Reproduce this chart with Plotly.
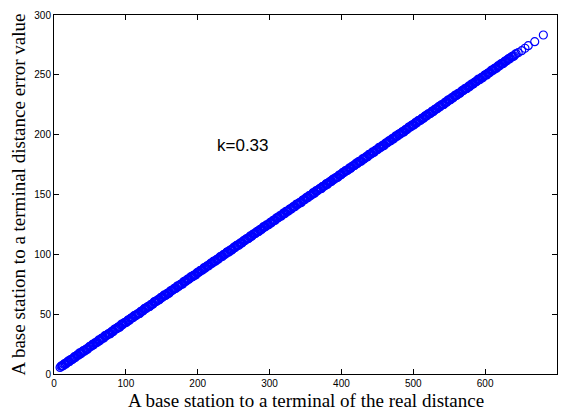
import plotly.graph_objects as go

real_distance = [
    8.4, 10.9, 12.6, 14.8, 17.3, 19.5, 21.2, 23.9, 26.1, 28.4,
    30.2, 32.8, 35.1, 37.4, 39.6, 41.7, 44.3, 46.2, 48.8, 51.0,
    53.4, 55.2, 57.9, 60.3, 62.4, 64.7, 66.8, 69.4, 71.5, 73.6,
    76.0, 78.3, 80.7, 82.5, 85.1, 87.4, 89.6, 91.9, 94.2, 96.3,
    98.8, 101.0, 103.4, 105.5, 107.9, 110.2, 112.6, 114.7, 117.1, 119.3,
    121.8, 124.0, 126.3, 128.5, 130.9, 133.2, 135.4, 137.8, 140.1, 142.3,
    144.7, 146.9, 149.2, 151.6, 153.8, 156.1, 158.4, 160.7, 163.0, 165.3,
    167.6, 169.9, 172.2, 174.5, 176.8, 179.1, 181.4, 183.7, 186.0, 188.3,
    190.6, 192.9, 195.2, 197.5, 199.8, 202.1, 204.4, 206.7, 209.0, 211.3,
    213.6, 215.9, 218.2, 220.5, 222.8, 225.1, 227.4, 229.7, 232.0, 234.3,
    236.6, 238.9, 241.2, 243.5, 245.8, 248.1, 250.4, 252.7, 255.0, 257.3,
    259.6, 261.9, 264.2, 266.5, 268.8, 271.1, 273.4, 275.7, 278.0, 280.3,
    282.6, 284.9, 287.2, 289.5, 291.8, 294.1, 296.4, 298.7, 301.0, 303.3,
    305.6, 307.9, 310.2, 312.5, 314.8, 317.1, 319.4, 321.7, 324.0, 326.3,
    328.6, 330.9, 333.2, 335.5, 337.8, 340.1, 342.4, 344.7, 347.0, 349.3,
    351.6, 353.9, 356.2, 358.5, 360.8, 363.1, 365.4, 367.7, 370.0, 372.3,
    374.6, 376.9, 379.2, 381.5, 383.8, 386.1, 388.4, 390.7, 393.0, 395.3,
    397.6, 399.9, 402.2, 404.5, 406.8, 409.1, 411.4, 413.7, 416.0, 418.3,
    420.6, 422.9, 425.2, 427.5, 429.8, 432.1, 434.4, 436.7, 439.0, 441.3,
    443.6, 445.9, 448.2, 450.5, 452.8, 455.1, 457.4, 459.7, 462.0, 464.3,
    466.6, 468.9, 471.2, 473.5, 475.8, 478.1, 480.4, 482.7, 485.0, 487.3,
    489.6, 491.9, 494.2, 496.5, 498.8, 501.1, 503.4, 505.7, 508.0, 510.3,
    512.6, 514.9, 517.2, 519.5, 521.8, 524.1, 526.4, 528.7, 531.0, 533.3,
    535.6, 537.9, 540.2, 542.5, 544.8, 547.1, 549.4, 551.7, 554.0, 556.3,
    558.6, 560.9, 563.2, 565.5, 567.8, 570.1, 572.4, 574.7, 577.0, 579.3,
    581.6, 583.9, 586.2, 588.5, 590.8, 593.1, 595.4, 597.7, 600.0, 602.3,
    604.6, 606.9, 609.2, 611.5, 613.8, 616.1, 618.4, 620.7, 623.0, 625.3,
    627.6, 630.0, 632.5, 634.9, 637.6, 640.2, 643.1, 646.0, 650.8, 655.4,
    660.0, 669.0, 681.0,
    9.7, 11.8, 13.7, 16.0, 18.4, 20.3, 22.5, 25.0, 27.2, 29.3,
    31.4, 34.0, 36.3, 38.6, 40.8, 42.9, 45.5, 47.4, 50.0, 52.2,
    54.5, 56.4, 59.1, 61.4, 63.6, 65.8, 68.0, 70.5, 72.6, 74.8,
    77.2, 79.5, 81.9, 83.7, 86.3, 88.5, 90.8, 93.1, 95.3, 97.5,
    99.9, 102.2, 104.5, 106.7, 109.1, 111.4, 113.7, 115.9, 118.2, 120.5,
    122.9, 125.2, 127.4, 129.7, 132.1, 134.3, 136.6, 139.0, 141.2, 143.5,
    145.8, 148.1, 150.4, 152.7, 155.0, 157.3, 159.6, 161.9, 164.2, 166.5,
    168.8, 171.1, 173.4, 175.7, 178.0, 180.3, 182.6, 184.9, 187.2, 189.5,
    191.8, 194.1, 196.4, 198.7, 201.0, 203.3, 205.6, 207.9, 210.2, 212.5,
    214.8, 217.1, 219.4, 221.7, 224.0, 226.3, 228.6, 230.9, 233.2, 235.5,
    237.8, 240.1, 242.4, 244.7, 247.0, 249.3, 251.6, 253.9, 256.2, 258.5,
    260.8, 263.1, 265.4, 267.7, 270.0, 272.3, 274.6, 276.9, 279.2, 281.5,
    283.8, 286.1, 288.4, 290.7, 293.0, 295.3, 297.6, 299.9, 302.2, 304.5,
    306.8, 309.1, 311.4, 313.7, 316.0, 318.3, 320.6, 322.9, 325.2, 327.5,
    329.8, 332.1, 334.4, 336.7, 339.0, 341.3, 343.6, 345.9, 348.2, 350.5,
    352.8, 355.1, 357.4, 359.7, 362.0, 364.3, 366.6, 368.9, 371.2, 373.5,
    375.8, 378.1, 380.4, 382.7, 385.0, 387.3, 389.6, 391.9, 394.2, 396.5,
    398.8, 401.1, 403.4, 405.7, 408.0, 410.3, 412.6, 414.9, 417.2, 419.5,
    421.8, 424.1, 426.4, 428.7, 431.0, 433.3, 435.6, 437.9, 440.2, 442.5,
    444.8, 447.1, 449.4, 451.7, 454.0, 456.3, 458.6, 460.9, 463.2, 465.5,
    467.8, 470.1, 472.4, 474.7, 477.0, 479.3, 481.6, 483.9, 486.2, 488.5,
    490.8, 493.1, 495.4, 497.7, 500.0, 502.3, 504.6, 506.9, 509.2, 511.5,
    513.8, 516.1, 518.4, 520.7, 523.0, 525.3, 527.6, 529.9, 532.2, 534.5,
    536.8, 539.1, 541.4, 543.7, 546.0, 548.3, 550.6, 552.9, 555.2, 557.5,
    559.8, 562.1, 564.4, 566.7, 569.0, 571.3, 573.6, 575.9, 578.2, 580.5,
    582.8, 585.1, 587.4, 589.7, 592.0, 594.3, 596.6, 598.9, 601.2, 603.5,
    605.8, 608.1, 610.4, 612.7, 615.0, 617.3, 619.6, 621.9, 624.2, 626.5,
    628.8, 631.2, 633.7, 636.2, 638.9, 641.6,
]

error_value = [
    5.5, 6.9, 6.9, 8.7, 9.0, 10.7, 10.3, 12.2, 12.6, 14.5,
    14.4, 16.0, 17.4, 16.9, 18.9, 19.0, 20.5, 20.5, 22.6, 23.0,
    24.7, 24.5, 26.2, 26.5, 28.5, 28.6, 30.0, 30.1, 32.1, 32.4,
    33.8, 33.7, 35.6, 35.8, 37.8, 37.9, 39.4, 39.5, 41.7, 41.7,
    43.1, 43.2, 45.3, 45.3, 47.0, 47.2, 49.1, 49.2, 50.5, 50.6,
    52.6, 52.9, 54.9, 55.0, 56.5, 56.4, 58.2, 58.6, 60.5, 60.6,
    62.1, 62.2, 64.1, 64.5, 66.2, 66.1, 67.6, 67.8, 69.7, 70.1,
    71.5, 71.7, 73.7, 74.0, 75.2, 75.3, 77.4, 77.6, 79.2, 79.6,
    81.3, 81.3, 82.7, 83.0, 85.0, 85.3, 86.7, 86.9, 89.0, 89.2,
    90.4, 90.8, 92.6, 92.8, 94.4, 94.4, 96.1, 96.7, 98.4, 98.2,
    100.0, 100.5, 102.1, 101.9, 103.7, 104.1, 106.0, 106.1, 107.7, 107.5,
    109.5, 109.7, 111.6, 111.9, 113.2, 113.4, 115.5, 115.5, 117.2, 117.5,
    119.2, 119.0, 120.8, 121.3, 123.2, 123.0, 124.7, 124.8, 126.7, 127.1,
    128.4, 128.5, 130.6, 130.7, 132.4, 132.7, 134.5, 134.3, 135.9, 136.3,
    138.1, 138.4, 139.8, 139.9, 142.0, 142.3, 143.5, 143.8, 145.6, 145.9,
    147.6, 147.7, 149.2, 149.8, 151.6, 151.4, 153.1, 153.7, 155.1, 155.1,
    156.8, 157.3, 159.1, 159.3, 160.7, 160.9, 162.8, 163.2, 164.4, 164.6,
    166.5, 166.8, 168.6, 168.8, 170.0, 170.4, 172.3, 172.5, 174.0, 174.3,
    176.2, 176.4, 177.7, 177.8, 179.9, 180.1, 181.6, 181.7, 183.6, 183.9,
    185.7, 185.6, 187.2, 187.6, 189.4, 189.7, 191.1, 191.1, 193.1, 193.4,
    195.1, 195.1, 196.7, 197.2, 199.1, 198.8, 200.6, 201.1, 202.6, 202.5,
    204.3, 204.7, 206.6, 206.7, 208.2, 208.3, 210.3, 210.6, 211.9, 212.0,
    213.9, 214.2, 216.0, 216.2, 217.4, 217.8, 219.7, 219.9, 221.4, 221.7,
    223.6, 223.9, 225.1, 225.3, 227.3, 227.6, 229.0, 229.2, 231.0, 231.4,
    233.1, 233.1, 234.6, 235.1, 236.8, 237.2, 238.5, 238.6, 240.5, 240.9,
    242.5, 242.6, 244.1, 244.7, 246.5, 246.3, 248.0, 248.6, 250.0, 249.9,
    251.7, 252.1, 254.0, 254.1, 255.6, 255.7, 257.7, 258.0, 259.3, 259.4,
    261.4, 261.7, 263.5, 263.8, 265.4, 265.8, 267.8, 268.5, 270.2, 272.2,
    274.4, 277.7, 283.3,
    6.5, 6.7, 8.0, 8.2, 10.0, 10.3, 11.9, 12.0, 13.4, 13.6,
    15.3, 15.7, 17.6, 17.8, 19.5, 19.3, 21.0, 21.3, 23.1, 23.5,
    24.3, 25.8, 26.3, 27.8, 27.7, 29.5, 29.8, 31.8, 31.9, 33.2,
    33.5, 35.2, 35.4, 37.2, 37.6, 38.8, 38.9, 40.9, 41.1, 42.8,
    43.1, 44.6, 44.7, 46.4, 47.0, 48.6, 48.6, 50.1, 50.3, 52.2,
    52.5, 54.2, 54.5, 56.0, 56.1, 57.7, 58.0, 60.0, 60.3, 61.6,
    61.8, 63.6, 63.9, 65.6, 65.7, 67.2, 67.3, 69.3, 69.7, 71.1,
    71.4, 73.2, 73.2, 74.8, 75.0, 77.1, 77.2, 78.7, 78.9, 80.7,
    81.0, 82.5, 82.5, 84.3, 84.9, 86.4, 86.6, 88.0, 88.3, 90.1,
    90.3, 91.9, 92.4, 94.1, 94.2, 95.6, 95.9, 97.7, 98.2, 99.5,
    99.9, 101.6, 101.9, 103.4, 103.5, 105.1, 105.5, 107.4, 107.7, 109.0,
    109.2, 110.9, 111.4, 113.0, 113.1, 114.6, 114.8, 116.7, 117.1, 118.5,
    118.9, 120.5, 120.5, 122.3, 122.8, 124.4, 124.5, 126.0, 126.1, 128.1,
    128.3, 130.1, 130.3, 131.9, 131.9, 133.6, 133.9, 135.9, 136.1, 137.5,
    137.7, 139.4, 139.8, 141.5, 141.6, 143.1, 143.2, 145.2, 145.6, 147.0,
    147.3, 149.1, 149.1, 150.7, 150.9, 153.0, 153.1, 154.6, 154.8, 156.6,
    156.9, 158.4, 158.4, 160.2, 160.8, 162.3, 162.5, 163.9, 164.2, 166.0,
    166.2, 167.8, 168.3, 170.0, 170.1, 171.5, 171.8, 173.6, 174.1, 175.4,
    175.8, 177.5, 177.8, 179.3, 179.4, 181.0, 181.4, 183.3, 183.6, 184.9,
    185.1, 186.8, 187.3, 188.9, 189.0, 190.5, 190.7, 192.6, 193.0, 194.4,
    194.8, 196.4, 196.4, 198.2, 198.7, 200.3, 200.4, 201.9, 202.0, 204.0,
    204.2, 206.0, 206.2, 207.8, 207.8, 209.5, 209.8, 211.8, 212.0, 213.4,
    213.6, 215.3, 215.7, 217.5, 217.5, 219.0, 219.2, 221.1, 221.5, 222.9,
    223.2, 225.0, 225.0, 226.6, 226.8, 228.9, 229.0, 230.5, 230.7, 232.5,
    232.8, 234.3, 234.3, 236.1, 236.7, 238.2, 238.4, 239.8, 240.1, 241.9,
    242.1, 243.7, 244.2, 245.8, 245.9, 247.4, 247.6, 249.5, 249.9, 251.3,
    251.7, 253.4, 253.7, 255.2, 255.3, 256.9, 257.3, 259.2, 259.5, 260.8,
    261.3, 262.8, 263.2, 264.9, 265.4, 267.0,
]

x_ticks = [0, 100, 200, 300, 400, 500, 600, 700]
y_ticks = [0, 50, 100, 150, 200, 250, 300]
note_text = "k=0.33"
x_title = "A base station to a terminal of the real distance"
y_title = "A base station to a terminal distance error value"

fig = go.Figure()
fig.add_trace(go.Scatter(
    x=real_distance, y=error_value, mode="markers",
    marker=dict(symbol="circle-open", size=8, color="#0000ff",
                line=dict(color="#0000ff", width=1.2)),
    showlegend=False, hoverinfo="skip",
))

axis_common = dict(
    showgrid=False, zeroline=False, showline=True, linecolor="black", linewidth=1,
    mirror="ticks", ticks="inside", ticklen=5, tickwidth=1, tickcolor="black",
    tickfont=dict(family="Liberation Sans, Arial, sans-serif", size=10, color="black"),
)

fig.update_xaxes(range=[0, 700], tickvals=x_ticks, ticktext=[str(v) for v in x_ticks], **axis_common)
fig.update_yaxes(range=[0, 300], tickvals=y_ticks, ticktext=[str(v) for v in y_ticks], **axis_common)

fig.add_annotation(x=263, y=191, xref="x", yref="y", text=note_text, showarrow=False,
                   font=dict(family="Liberation Sans, Arial, sans-serif", size=17, color="black"))
fig.add_annotation(x=0.5, y=-0.0752, xref="paper", yref="paper", text=x_title, showarrow=False,
                   xanchor="center", yanchor="middle",
                   font=dict(family="Liberation Serif, Times New Roman, serif", size=19, color="black"))
fig.add_annotation(x=-0.0696, y=0.5, xref="paper", yref="paper", text=y_title, showarrow=False,
                   textangle=-90, xanchor="center", yanchor="middle",
                   font=dict(family="Liberation Serif, Times New Roman, serif", size=19, color="black"))

fig.update_layout(
    width=564, height=414,
    margin=dict(l=54, r=7, t=15, b=40),
    paper_bgcolor="white", plot_bgcolor="white",
)

fig.write_html("out.html")
